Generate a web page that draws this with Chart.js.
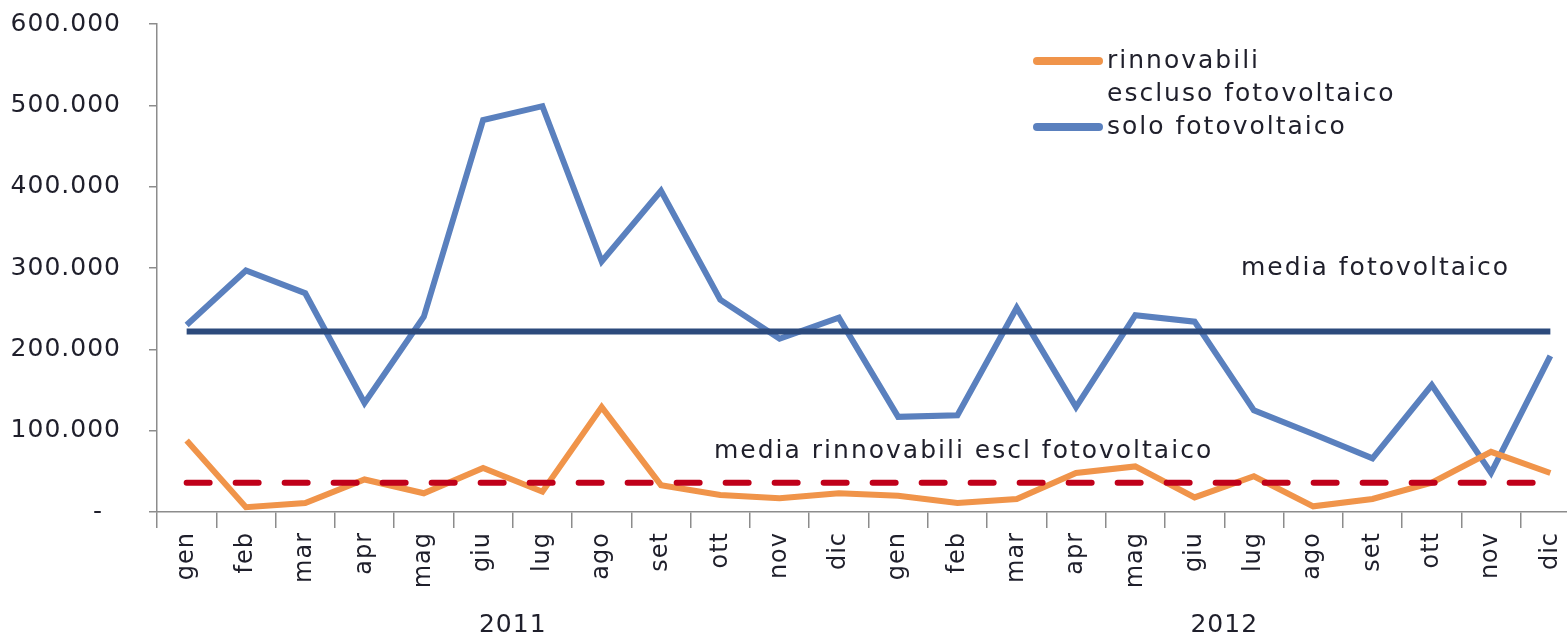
<!DOCTYPE html>
<html>
<head>
<meta charset="utf-8">
<script src="https://cdn.jsdelivr.net/npm/chart.js@4/dist/chart.umd.min.js"></script>
<style>
  html, body { margin: 0; background: #fff; overflow: hidden; }
  #wrap { width: 1580px; height: 638px; }
</style>
</head>
<body>
<div id="wrap"><canvas id="energia"></canvas></div>
<script>
const mesi = ["gen", "feb", "mar", "apr", "mag", "giu", "lug", "ago", "set", "ott", "nov", "dic",
              "gen", "feb", "mar", "apr", "mag", "giu", "lug", "ago", "set", "ott", "nov", "dic"];
const anni = ["2011", "2012"];
const rinnovabili = [88000, 6000, 11000, 40000, 23000, 54000, 25000, 129000, 33000, 21000, 17000, 23000,
                     20000, 11000, 16000, 48000, 56000, 18000, 44000, 7000, 16000, 36000, 74000, 48000];
const fotovoltaico = [230000, 297000, 269000, 134000, 240000, 482000, 499000, 308000, 395000, 261000, 213000, 239000,
                      117000, 119000, 251000, 129000, 242000, 234000, 125000, 96000, 66000, 156000, 48000, 192000];
const mediaFotovoltaico = 222000;
const mediaRinnovabili = 36000;
const yTicks = [0, 100000, 200000, 300000, 400000, 500000, 600000];

const FONT = "'DejaVu Sans', sans-serif";
const TEXT = "#1f1f2b";

function fmt(v) {
  if (v === 0) return "-  ";
  return String(v).replace(/\B(?=(\d{3})+(?!\d))/g, ".");
}

// wider text, closer to the original typeface
const spacing = {
  id: "spacing",
  beforeDraw(chart) { chart.ctx.letterSpacing = "1px"; }
};

// legend + text labels drawn on the canvas
const notes = {
  id: "notes",
  afterDraw(chart) {
    const { ctx, chartArea, scales } = chart;
    ctx.save();
    ctx.font = "25px " + FONT;
    ctx.letterSpacing = "2px";
    ctx.fillStyle = TEXT;
    ctx.textBaseline = "middle";
    ctx.textAlign = "left";

    // legend
    const items = chart.data.datasets.filter(d => d.inLegend);
    let y = 61;
    items.forEach(d => {
      ctx.strokeStyle = d.borderColor;
      ctx.lineWidth = 8;
      ctx.lineCap = "round";
      ctx.beginPath();
      ctx.moveTo(1037, y);
      ctx.lineTo(1099, y);
      ctx.stroke();
      ctx.fillStyle = TEXT;
      d.legendLines.forEach((t, i) => ctx.fillText(t, 1107, y + i * 33));
      y += d.legendLines.length * 33;
    });

    // labels of the averages
    const yF = scales.y.getPixelForValue(mediaFotovoltaico);
    const yR = scales.y.getPixelForValue(mediaRinnovabili);
    ctx.fillText("media fotovoltaico", chartArea.left + 1084, yF - 63);
    ctx.fillText("media rinnovabili escl fotovoltaico", chartArea.left + 557, yR - 31);
    ctx.restore();
  }
};

new Chart(document.getElementById("energia"), {
  type: "line",
  data: {
    labels: mesi,
    datasets: [
      {
        label: "media fotovoltaico",
        data: mesi.map(() => mediaFotovoltaico),
        borderColor: "#2c4a7c",
        borderWidth: 6,
        order: 0,
      },
      {
        label: "media rinnovabili escl fotovoltaico",
        data: mesi.map(() => mediaRinnovabili),
        borderColor: "#c0001a",
        borderWidth: 6,
        borderDash: [23, 26],
        borderCapStyle: "round",
        order: 0,
      },
      {
        label: "rinnovabili escluso fotovoltaico",
        data: rinnovabili,
        borderColor: "#f0944a",
        borderWidth: 6,
        order: 1,
        inLegend: true,
        legendLines: ["rinnovabili", "escluso fotovoltaico"],
      },
      {
        label: "solo fotovoltaico",
        data: fotovoltaico,
        borderColor: "#5a80be",
        borderWidth: 6,
        order: 1,
        inLegend: true,
        legendLines: ["solo fotovoltaico"],
      },
    ],
  },
  options: {
    responsive: true,
    maintainAspectRatio: false,
    animation: false,
    events: [],
    layout: { padding: { left: 0, top: 24, right: 0, bottom: 0 } },
    elements: {
      point: { radius: 0 },
      line: { tension: 0, fill: false },
    },
    plugins: {
      legend: { display: false },
      tooltip: { enabled: false },
    },
    scales: {
      x: {
        type: "category",
        offset: true,
        grid: {
          offset: true,
          drawOnChartArea: false,
          tickLength: 16,
          color: "#8c8c8c",
          lineWidth: 1.5,
        },
        border: { color: "#8c8c8c", width: 1.5 },
        ticks: {
          minRotation: 90,
          maxRotation: 90,
          autoSkip: false,
          padding: 4,
          color: TEXT,
          font: { family: FONT, size: 24 },
        },
        afterFit: s => { s.height = 88; s.paddingLeft = 0; s.paddingRight = 0; },
      },
      x2: {
        type: "category",
        position: "bottom",
        labels: anni,
        offset: true,
        grid: { display: false },
        border: { display: false },
        ticks: {
          padding: 2,
          color: TEXT,
          font: { family: FONT, size: 25 },
        },
        afterFit: s => { s.height = 38; s.paddingLeft = 0; s.paddingRight = 0; },
      },
      y: {
        min: 0,
        max: 600000,
        afterBuildTicks: s => { s.ticks = yTicks.map(v => ({ value: v })); },
        grid: {
          drawOnChartArea: false,
          tickLength: 8,
          color: "#8c8c8c",
          lineWidth: 1.5,
        },
        border: { color: "#8c8c8c", width: 1.5 },
        ticks: {
          padding: 28,
          color: TEXT,
          font: { family: FONT, size: 25 },
          callback: v => fmt(v),
        },
        afterFit: s => { s.width = 157; s.paddingTop = 0; s.paddingBottom = 0; },
      },
    },
  },
  plugins: [spacing, notes],
});
</script>
</body>
</html>
